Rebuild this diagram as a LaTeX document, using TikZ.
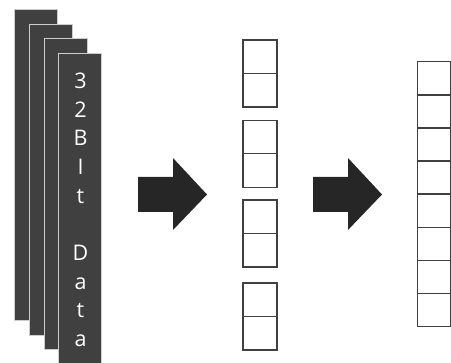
\documentclass[tikz,border=0pt]{standalone}
\usepackage{fontspec}
\setmainfont{Open Sans}
\begin{document}
\begin{tikzpicture}[x=1pt,y=-1pt,
  sheet/.style={draw=white!80!black,line width=0.8pt,fill=black!75,inner sep=0pt,minimum width=43pt,minimum height=311pt},
  cell/.style={draw=black!75,line width=1.4pt,fill=white,inner sep=0pt,minimum width=34pt,minimum height=33.5pt},
  bigcell/.style={draw=black!75,line width=1.4pt,fill=white,inner sep=0pt,minimum width=33pt,minimum height=33.1pt},
  letter/.style={text=white,font=\fontsize{21.5}{24}\selectfont,anchor=base,inner sep=0pt},
  fatarrow/.style={fill=black!85}]
\useasboundingbox (0,0) rectangle (451,363);
% stacked sheets
\node[sheet] (s1) at (36,164.5) {};
\node[sheet] (s2) at (50.5,179.5) {};
\node[sheet] (s3) at (65.5,194) {};
\node[sheet,minimum height=320pt] (s4) at (80,213) {};
% letters
\foreach \ch/\y [count=\i] in {3/88.5,2/117.2,B/145.9,I/174.6,t/203.3,D/260.7,a/289.4,t/318,a/346.8}
  \node[letter] (l\i) at (80.5,\y) {\ch};
% middle column cells
\foreach \y [count=\i] in {56.8,90.2,137,170.5,216.7,250.2,299.7,333.2}
  \node[cell] (c\i) at (260,\y) {};
% right column cells
\foreach \i in {0,...,7}
  \node[bigcell] (r\i) at (434,{78.3+33.1*\i}) {};
% arrows
\fill[fatarrow] (138,177) -- (173,177) -- (173,158) -- (207,194.5) -- (173,230) -- (173,212) -- (138,212) -- cycle;
\fill[fatarrow] (313,177) -- (348,177) -- (348,158) -- (382,194.5) -- (348,230) -- (348,212) -- (313,212) -- cycle;
\end{tikzpicture}
\end{document}
